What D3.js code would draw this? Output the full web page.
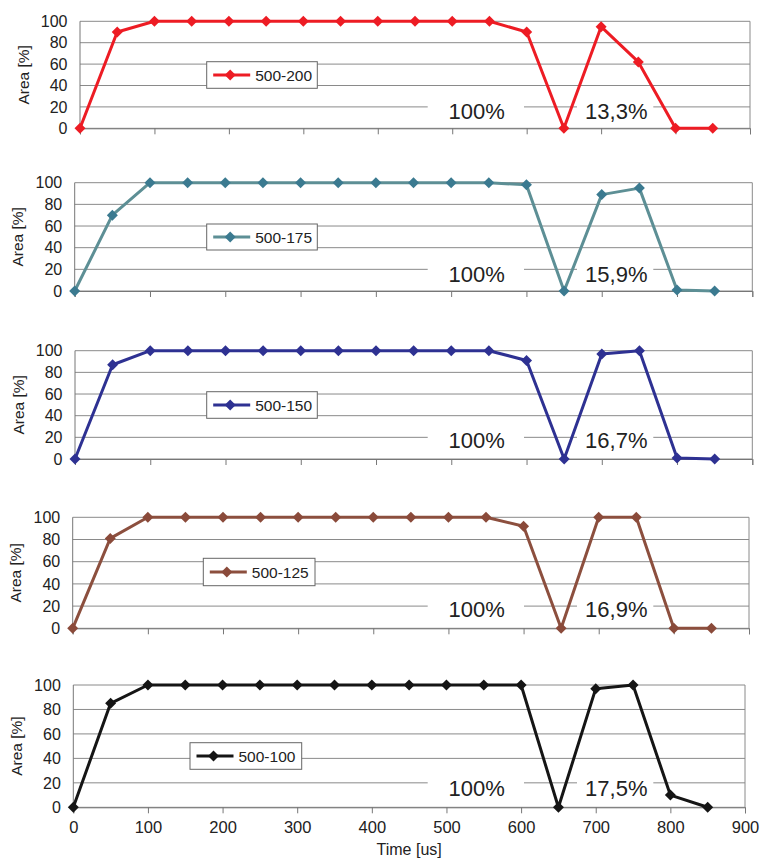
<!DOCTYPE html>
<html><head><meta charset="utf-8">
<script src="https://cdn.jsdelivr.net/npm/d3@7"></script>
<style>
html,body{margin:0;padding:0;background:#fff;}
svg{display:block;font-family:"Liberation Sans",Arial,sans-serif;}
</style></head>
<body>
<svg id="c" width="760" height="859"></svg>
<script>
// ---- data ----
const times = [0,50,100,150,200,250,300,350,400,450,500,550,600,650,700,750,800,850];
const seriesNames = ["500-200","500-175","500-150","500-125","500-100"];
const s200 = [0,90,100,100,100,100,100,100,100,100,100,100,90,0,95,62,0,0];
const s175 = [0,70,100,100,100,100,100,100,100,100,100,100,98,0,89,95,1,0];
const s150 = [0,87,100,100,100,100,100,100,100,100,100,100,91,0,97,100,1,0];
const s125 = [0,81,100,100,100,100,100,100,100,100,100,100,92,0,100,100,0,0];
const s100 = [0,85,100,100,100,100,100,100,100,100,100,100,100,0,97,100,10,0];
const seriesValues = [s200,s175,s150,s125,s100];
const leftNotes = ["100%","100%","100%","100%","100%"];
const rightNotes = ["13,3%","15,9%","16,7%","16,9%","17,5%"];
const yTicks = [0,20,40,60,80,100];
const xTicks = [0,100,200,300,400,500,600,700,800,900];
const yLabel = "Area [%]";
const xLabel = "Time [us]";

// ---- layout / style ----
const colors = [
  {line:"#ed1c24", mark:"#ed1c24"},
  {line:"#5d8f95", mark:"#3b7a90"},
  {line:"#2e3192", mark:"#2e3192"},
  {line:"#8c4f3e", mark:"#8a4a3a"},
  {line:"#151515", mark:"#151515"}
];
const panels = [
  {l:80,  r:750,   t:21.3,  b:128.3, lg:{x:206.7,y:61.7, w:110.6,h:26.6}, ny:16},
  {l:74.7,r:752.3, t:182.7, b:291,   lg:{x:206.7,y:224,  w:110.6,h:26}, ny:16},
  {l:75,  r:752.3, t:350.7, b:459,   lg:{x:206.7,y:391.7,w:110.6,h:26.6}, ny:17.5},
  {l:72.7,r:749,   t:517.3, b:628.3, lg:{x:203.3,y:558.3,w:111.7,h:27.4}, ny:17},
  {l:73.3,r:745,   t:685,   b:807.3, lg:{x:190,  y:742.7,w:111.7,h:26.6}, ny:16}
];
const noteBoxes = [{cx:476.7, x0:427.7, x1:524},{cx:616.3, x0:577, x1:653.3}];

const svg = d3.select("#c");
const diamond = r => `M0,${-r}L${r},0L0,${r}L${-r},0Z`;

panels.forEach((p,i)=>{
  const x = d3.scaleLinear().domain([0,900]).range([p.l,p.r]);
  const y = d3.scaleLinear().domain([0,100]).range([p.b,p.t]);
  const g = svg.append("g");
  // gridlines
  g.selectAll("line.grid").data(yTicks).enter().append("line")
    .attr("x1",p.l).attr("x2",p.r).attr("y1",d=>y(d)).attr("y2",d=>y(d))
    .attr("stroke","#8a8a8a").attr("stroke-width",1);
  // right border
  g.append("line").attr("x1",p.r).attr("x2",p.r).attr("y1",p.t).attr("y2",p.b)
    .attr("stroke","#8a8a8a").attr("stroke-width",1);
  // y axis
  g.append("line").attr("x1",p.l).attr("x2",p.l).attr("y1",p.t).attr("y2",p.b)
    .attr("stroke","#777").attr("stroke-width",1);
  // x axis with ticks
  const last = i===panels.length-1;
  const xa = d3.axisBottom(x).tickValues(xTicks).tickSize(6).tickFormat(last?d3.format("d"):"");
  const ax = g.append("g").attr("transform",`translate(0,${p.b})`).call(xa);
  ax.select(".domain").attr("stroke","#777");
  ax.selectAll(".tick line").attr("stroke","#777");
  ax.selectAll("text").attr("font-size",16.5).attr("fill","#222")
    .attr("font-family","Liberation Sans, Arial, sans-serif").attr("dy","1.0em");
  // y tick labels
  g.selectAll("text.yt").data(yTicks).enter().append("text")
    .attr("x",p.l-12.5).attr("y",d=>y(d)).attr("dy","0.36em")
    .attr("text-anchor","end").attr("font-size",16).attr("fill","#222").text(d=>d);
  // y label
  g.append("text").attr("transform",`translate(${p.l-57},${(p.t+p.b)/2}) rotate(-90)`)
    .attr("text-anchor","middle").attr("dy","0.36em").attr("font-size",15.5).attr("fill","#222").text(yLabel);
  // notes with white boxes
  const notes = [leftNotes[i], rightNotes[i]];
  notes.forEach((t,k)=>{
    const nb = noteBoxes[k];
    const cy = y(p.ny);
    g.append("rect").attr("x",nb.x0).attr("y",cy-12).attr("width",nb.x1-nb.x0).attr("height",24).attr("fill","#fff");
    g.append("text").attr("x",nb.cx).attr("y",cy).attr("dy","0.36em").attr("text-anchor","middle")
      .attr("font-size",22).attr("fill","#222").text(t);
  });
  // line
  const vals = seriesValues[i];
  const pts = times.map((t,j)=>[t,vals[j]]);
  g.append("path").datum(pts)
    .attr("d",d3.line().x(d=>x(d[0])).y(d=>y(d[1])))
    .attr("fill","none").attr("stroke",colors[i].line).attr("stroke-width",3).attr("stroke-linejoin","round");
  g.selectAll("path.m").data(pts).enter().append("path")
    .attr("transform",d=>`translate(${x(d[0])},${y(d[1])})`)
    .attr("d",diamond(5.5)).attr("fill",colors[i].mark);
  // legend
  const lg = p.lg;
  g.append("rect").attr("x",lg.x).attr("y",lg.y).attr("width",lg.w).attr("height",lg.h)
    .attr("fill","#fff").attr("stroke","#666").attr("stroke-width",1);
  const ly = lg.y+lg.h/2;
  g.append("line").attr("x1",lg.x+6.5).attr("x2",lg.x+43.5).attr("y1",ly).attr("y2",ly)
    .attr("stroke",colors[i].line).attr("stroke-width",3);
  g.append("path").attr("transform",`translate(${lg.x+23.5},${ly})`).attr("d",diamond(5.5)).attr("fill",colors[i].mark);
  g.append("text").attr("x",lg.x+48.5).attr("y",ly).attr("dy","0.36em")
    .attr("font-size",15.5).attr("fill","#222").text(seriesNames[i]);
});
// x label
const pl = panels[panels.length-1];
svg.append("text").attr("x",(pl.l+pl.r)/2).attr("y",849).attr("dy","0.36em")
  .attr("text-anchor","middle").attr("font-size",16).attr("fill","#222").text(xLabel);
</script>
</body></html>
